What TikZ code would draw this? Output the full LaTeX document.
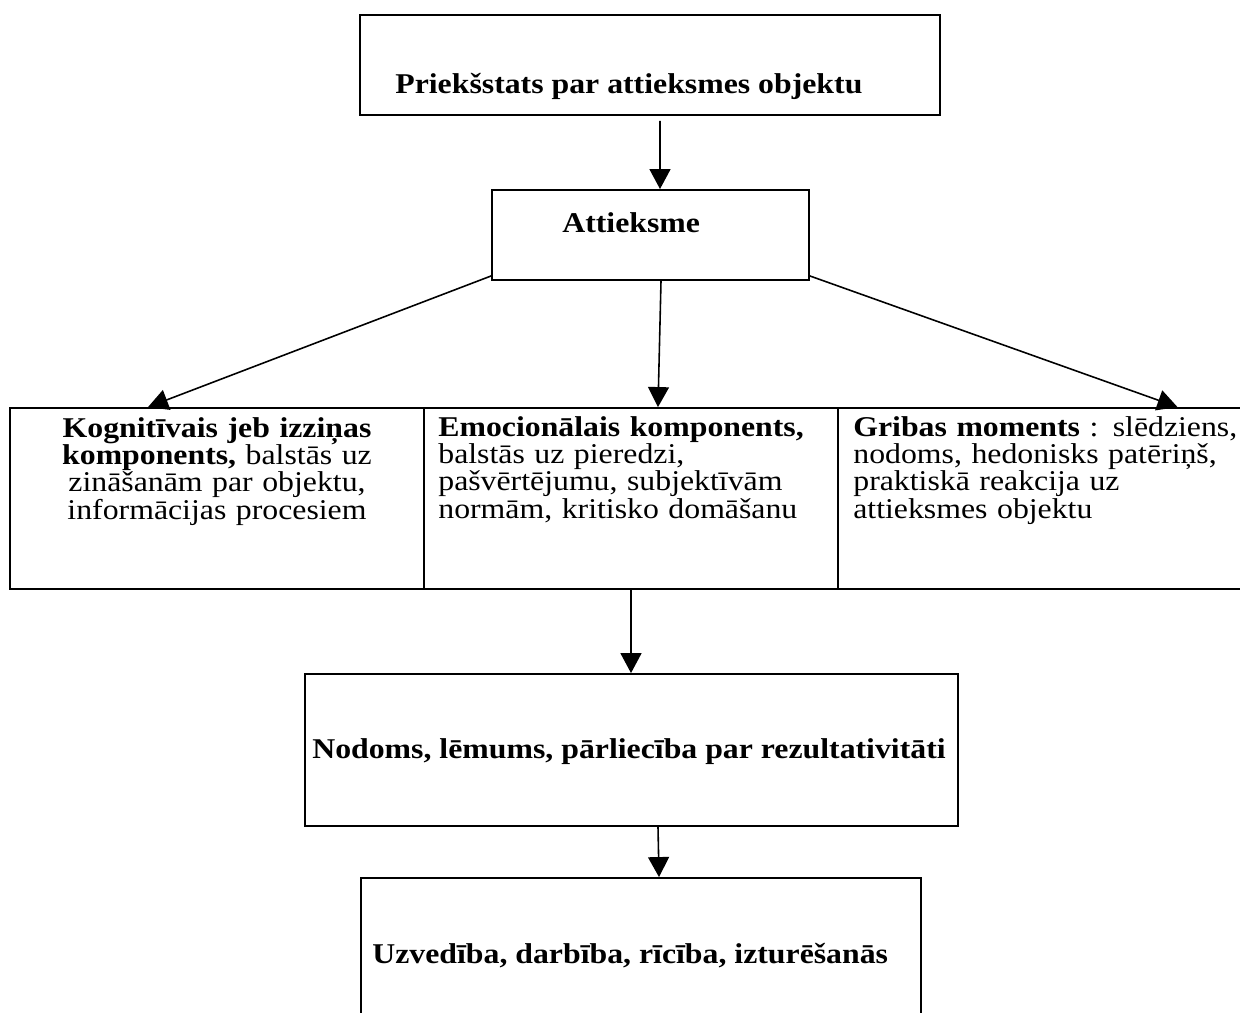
\documentclass[tikz,border=0pt]{standalone}
\usepackage{fontspec}
\setmainfont{Liberation Serif}[FakeStretch=1.11]
\usetikzlibrary{arrows.meta}

\newcommand{\diagfont}{\fontsize{16.3}{15.6}\selectfont\lineskiplimit=-30pt\relax}

\tikzset{
  box/.style={draw, line width=1.1pt, inner sep=0pt},
  link/.style={-{Triangle[length=0.4cm,width=0.42cm]}, line width=0.9pt},
  txt/.style={inner sep=0pt},
}

\begin{document}
\begin{tikzpicture}[x=0.02cm, y=-0.02cm, font=\diagfont]

    \useasboundingbox (0,0) rectangle (1240,1012);
    \clip (0,0) rectangle (1240,1012);

    % Top box
    \node[box, minimum width=11.6cm, minimum height=2cm] (priekss) at (650,65) {};
    \node[txt, anchor=base west] at (395,93) {\textbf{Priekšstats par attieksmes objektu}};

    % Attitude
    \node[box, minimum width=6.34cm, minimum height=1.8cm] (attieksme) at (650.5,235) {};
    \node[txt, anchor=base west] at (562,232) {\textbf{Attieksme}};

    % Three components
    \node[box, minimum width=8.28cm, minimum height=3.62cm] (kogn) at (217,498.5) {};
    \node[box, minimum width=8.28cm, minimum height=3.62cm] (emoc) at (631,498.5) {};
    \node[box, minimum width=8.3cm, minimum height=3.62cm] (grib) at (1045.5,498.5) {};

    \node[txt, anchor=base, text width=8cm, align=center] at (217,437) {
      \textbf{Kognitīvais jeb izziņas}\\
      \textbf{komponents,} balstās uz\\
      zināšanām par objektu,\\
      informācijas procesiem};
    \node[txt, anchor=base west, text width=9cm, align=left] at (438,436) {
      \textbf{Emocionālais komponents,}\\
      balstās uz pieredzi,\\
      pašvērtējumu, subjektīvām\\
      normām, kritisko domāšanu};
    \node[txt, anchor=base west, text width=9cm, align=left] at (853,436) {
      \textbf{Gribas moments} : slēdziens,\\
      nodoms, hedonisks patēriņš,\\
      praktiskā reakcija uz\\
      attieksmes objektu};

    % Intention
    \node[box, minimum width=13.06cm, minimum height=3.04cm] (nodoms) at (631.5,750) {};
    \node[txt, anchor=base] at (629,758) {\textbf{Nodoms, lēmums, pārliecība par rezultativitāti}};

    % Behaviour
    \node[box, minimum width=11.2cm, minimum height=3.64cm] (uzv) at (641,969) {};
    \node[txt, anchor=base west] at (372,963) {\textbf{Uzvedība, darbība, rīcība, izturēšanās}};

    % --------------------
    % Arrows
    % --------------------

    \draw[link] ([xshift=0.2cm, yshift=-0.1cm]priekss.south) -- ([xshift=0.19cm]attieksme.north);

    \draw[link] ([yshift=0.1cm]attieksme.south west) -- ([xshift=-1.38cm]kogn.north);
    \draw[link] ([xshift=0.21cm]attieksme.south) -- ([xshift=0.54cm]emoc.north);
    \draw[link] ([yshift=0.1cm]attieksme.south east) -- ([xshift=2.64cm]grib.north);

    \draw[link] (emoc.south) -- (emoc.south |- nodoms.north);
    \draw[link] ([xshift=0.53cm]nodoms.south) -- ([xshift=0.36cm]uzv.north);

\end{tikzpicture}
\end{document}
